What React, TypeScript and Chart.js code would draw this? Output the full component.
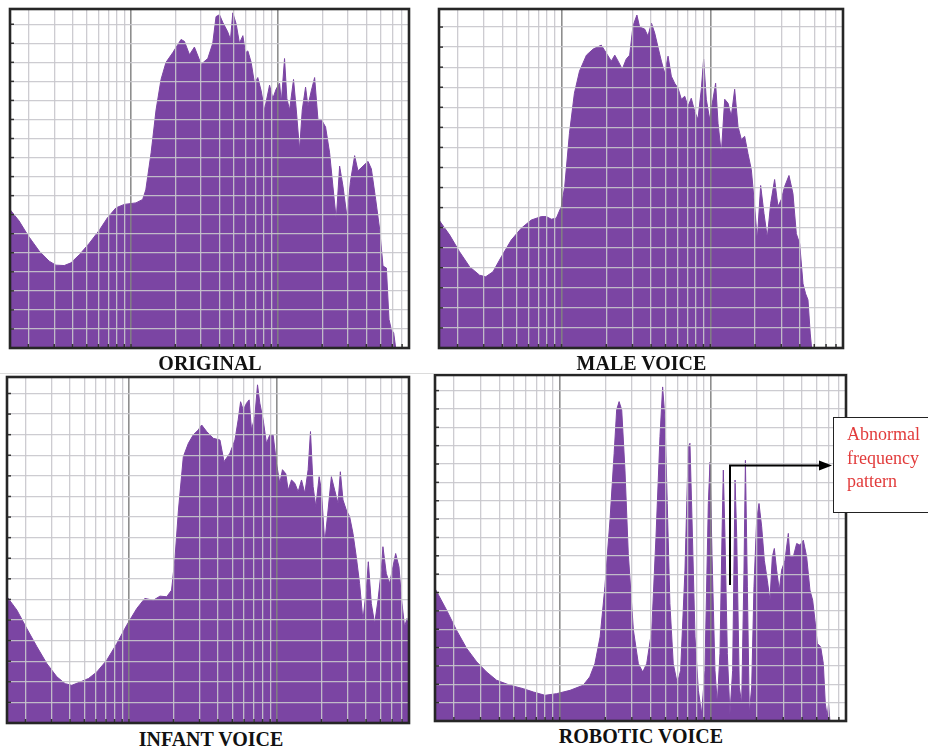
import React, { useEffect, useRef } from "react";
import { Chart, registerables } from "chart.js";

Chart.register(...registerables);

// ---- axis definition (log frequency axis, Hz) ----
const X_MIN = 15;
const X_MAX = 7800;
const X_GRID_HZ = [20, 30, 40, 50, 60, 70, 80, 90, 100, 200, 300, 400, 500, 600, 700, 800, 900, 1000, 2000, 3000, 4000, 5000, 6000, 7000];
const X_DECADE_HZ = [100, 1000];

// ---- ORIGINAL ----
const ORIGINAL_FREQ = [15, 17.3, 20, 23.7, 27.7, 30.8, 35.1, 39, 44.5, 52, 61, 69, 79, 90, 108, 120, 126, 137, 148, 160, 173, 192, 219, 231, 250, 270, 300, 333, 360, 379, 400, 421, 455, 475, 493, 520, 547, 577, 601, 624, 657, 692, 729, 769, 810, 877, 923, 973, 1026, 1054, 1109, 1150, 1200, 1277, 1333, 1403, 1464, 1542, 1599, 1686, 1777, 1872, 1974, 2110, 2247, 2366, 2494, 2629, 2770, 2950, 3110, 3327, 3505, 3792, 4103, 4325, 4627, 4930, 5190, 5472, 5702, 5916, 6133, 6334];
const ORIGINAL_LEVEL = [7.27, 6.67, 5.88, 5.09, 4.56, 4.35, 4.33, 4.47, 4.9, 5.5, 6.2, 6.83, 7.36, 7.54, 7.62, 7.8, 8.3, 10.25, 12.5, 14.1, 15.0, 15.5, 16.2, 16.1, 15.4, 15.8, 14.9, 15.2, 16.0, 17.4, 17.5, 17.1, 16.6, 16.2, 17.6, 17.0, 16.0, 16.4, 15.5, 15.6, 15.0, 13.9, 14.2, 13.5, 12.5, 13.8, 13.1, 13.6, 13.9, 12.9, 15.2, 13.1, 12.5, 14.1, 12.5, 10.4, 12.5, 13.7, 12.7, 13.5, 14.2, 12.0, 12.0, 11.6, 10.25, 8.5, 6.75, 9.55, 8.5, 6.9, 8.7, 10.1, 9.3, 9.55, 9.8, 9.4, 7.8, 6.2, 4.3, 4.2, 1.5, 0.96, 0.8, 0];

// ---- MALE VOICE ----
const MALE_FREQ = [15, 17.7, 20.6, 24.1, 28.1, 30.9, 34.6, 39.4, 45.9, 53.6, 62.6, 73.1, 79, 85.4, 92.2, 99.6, 105, 113, 122, 132, 147, 163, 185, 200, 216, 228, 240, 256, 272, 287, 302, 321, 335, 362, 381, 402, 423, 445, 469, 493, 520, 547, 576, 607, 639, 673, 708, 745, 785, 826, 870, 902, 940, 990, 1042, 1086, 1127, 1186, 1250, 1316, 1384, 1458, 1535, 1616, 1702, 1791, 1887, 1987, 2070, 2180, 2296, 2417, 2545, 2706, 2850, 3000, 3160, 3380, 3595, 3787, 3990, 4200, 4375, 4536, 4700, 4800];
const MALE_LEVEL = [6.38, 5.63, 4.8, 4.05, 3.63, 3.55, 3.8, 4.55, 5.38, 5.97, 6.38, 6.55, 6.55, 6.42, 6.47, 7.05, 8.05, 10.7, 12.7, 13.8, 14.6, 14.9, 15.1, 14.7, 14.3, 14.6, 14.3, 13.9, 14.4, 14.6, 16.05, 16.6, 16.0, 15.9, 15.55, 16.2, 15.7, 15.0, 14.3, 13.7, 14.55, 13.55, 13.2, 12.95, 12.4, 12.55, 12.05, 12.45, 11.8, 11.4, 12.9, 14.4, 12.4, 11.4, 12.4, 13.2, 11.2, 9.7, 12.4, 12.2, 11.55, 12.9, 11.05, 10.4, 10.55, 9.7, 8.9, 7.05, 5.4, 8.1, 6.7, 5.5, 7.2, 8.4, 7.05, 7.4, 8.05, 8.6, 7.7, 5.7, 5.2, 3.2, 2.7, 2.4, 0.7, 0];

// ---- INFANT VOICE ----
const INFANT_FREQ = [15, 17.5, 20.4, 23.9, 27.9, 32.6, 37.1, 41.1, 46.8, 53.3, 60.7, 70.8, 82.8, 96.6, 113, 128, 146, 162, 180, 194, 205, 216, 233, 252, 272, 294, 310, 335, 372, 412, 439, 481, 520, 547, 568, 592, 623, 649, 673, 709, 739, 766, 807, 849, 895, 942, 993, 1045, 1089, 1148, 1190, 1254, 1321, 1391, 1465, 1542, 1624, 1685, 1755, 1830, 1927, 1997, 2103, 2215, 2332, 2456, 2586, 2681, 2793, 2942, 3098, 3262, 3435, 3617, 3809, 4011, 4142, 4341, 4571, 4814, 5069, 5200, 5478, 5768, 6074, 6338, 6674, 6955, 7285, 7555, 7800];
const INFANT_LEVEL = [6.13, 5.48, 4.59, 3.7, 2.88, 2.24, 1.91, 1.83, 1.99, 2.16, 2.48, 3.05, 3.86, 4.75, 5.56, 6.05, 5.96, 6.16, 6.13, 6.45, 8.07, 10.34, 12.93, 13.58, 13.99, 14.23, 14.47, 14.15, 13.82, 13.74, 12.69, 13.1, 13.74, 14.72, 15.6, 15.2, 15.53, 15.69, 14.23, 14.88, 16.42, 15.53, 14.72, 13.58, 13.99, 13.99, 12.6, 11.64, 12.3, 12.1, 11.3, 11.8, 11.64, 11.23, 11.8, 11.15, 12.3, 14.15, 11.48, 10.5, 11.96, 11.3, 8.72, 10.34, 11.96, 11.3, 10.66, 12.2, 10.83, 10.34, 10.02, 9.21, 8.07, 6.77, 4.99, 6.45, 7.83, 5.8, 4.83, 5.96, 7.42, 8.56, 7.26, 6.77, 7.58, 8.23, 7.58, 5.96, 4.67, 5.07, 4.5];

// ---- ROBOTIC VOICE ----
const ROBOTIC_FREQ = [15, 17.9, 20.8, 24.3, 28.3, 32.9, 38.3, 46.9, 57.5, 67, 80, 95.5, 117, 143, 158, 171, 185, 199, 215, 229, 238, 247, 257, 270, 284, 307, 331, 354, 376, 406, 433, 460, 479, 497, 514, 535, 563, 599, 630, 673, 708, 726, 749, 784, 825, 867, 912, 960, 985, 1015, 1062, 1101, 1146, 1182, 1206, 1237, 1282, 1334, 1390, 1442, 1479, 1538, 1595, 1652, 1688, 1739, 1791, 1857, 1923, 2003, 2076, 2162, 2251, 2355, 2453, 2543, 2621, 2714, 2827, 2929, 3083, 3243, 3326, 3499, 3681, 3874, 4074, 4286, 4508, 4697, 4864, 5043, 5305, 5524, 5693, 5866, 5984, 6108];
const ROBOTIC_LEVEL = [7.22, 6.04, 4.95, 3.95, 3.22, 2.67, 2.22, 1.95, 1.76, 1.58, 1.4, 1.49, 1.67, 1.95, 2.4, 3.13, 4.58, 7.31, 10.95, 14.58, 16.95, 17.4, 16.95, 13.67, 9.13, 4.95, 3.13, 2.67, 3.13, 4.95, 10.04, 15.49, 18.2, 16.4, 11.85, 6.4, 3.13, 2.04, 2.76, 8.22, 14.95, 15.13, 10.95, 4.58, 1.67, 0.4, 2.76, 11.85, 14.1, 9.13, 2.76, 0.95, 3.67, 10.04, 13.67, 10.04, 3.67, 0.4, 2.76, 13.13, 10.04, 1.85, 0.95, 8.22, 14.2, 7.31, 0.4, 1.85, 7.31, 10.95, 11.85, 10.58, 8.76, 7.67, 6.58, 8.95, 9.4, 8.22, 7.13, 8.22, 8.76, 10.22, 8.95, 8.95, 9.67, 9.58, 9.85, 8.95, 7.13, 6.58, 5.49, 4.22, 4.04, 3.13, 0.95, 0.22, 0.95, 0];

const TITLES = ["ORIGINAL", "MALE VOICE", "INFANT VOICE", "ROBOTIC VOICE"];
const Y_MAX = [17.8, 16.9, 16.8, 18.85];
const ANNOTATION_LINES = ["Abnormal", "frequency", "pattern"];

// ---- layout / style (not data) ----
const PURPLE = "#7b45a3";
const GRID = "rgba(200,198,204,0.9)";
const GRID_DECADE = "rgba(130,130,130,0.9)";
const PAD = 3;
const AREAS = [
  { left: 10, top: 9, width: 399, height: 339 },
  { left: 439, top: 9, width: 404, height: 339 },
  { left: 7, top: 377, width: 402, height: 346 },
  { left: 435, top: 375, width: 411, height: 346 },
];
const LABELS = [
  { x: 210, baseline: 370 },
  { x: 641.5, baseline: 370 },
  { x: 211, baseline: 745.5 },
  { x: 641, baseline: 743 },
];

const framePlugin = {
  id: "frame",
  afterDraw(chart: any) {
    const { ctx, chartArea } = chart;
    const xs = chart.scales.x;
    const ys = chart.scales.y;
    ctx.save();
    ctx.strokeStyle = "#333";
    ctx.lineWidth = 1.5;
    ys.ticks.forEach((t: any) => {
      const y = ys.getPixelForValue(t.value);
      ctx.beginPath();
      ctx.moveTo(chartArea.left, y);
      ctx.lineTo(chartArea.left + 4, y);
      ctx.stroke();
    });
    xs.ticks.forEach((t: any) => {
      const x = xs.getPixelForValue(t.value);
      ctx.beginPath();
      ctx.moveTo(x, chartArea.bottom);
      ctx.lineTo(x, chartArea.bottom - 4);
      ctx.stroke();
    });
    ctx.strokeStyle = "#262626";
    ctx.lineWidth = 2.6;
    ctx.strokeRect(chartArea.left, chartArea.top, chartArea.right - chartArea.left, chartArea.bottom - chartArea.top);
    ctx.restore();
  },
};

function SpectrumPanel(props: { freq: number[]; level: number[]; yMax: number; area: any }) {
  const ref = useRef<HTMLCanvasElement | null>(null);
  const { freq, level, yMax, area } = props;
  useEffect(() => {
    if (!ref.current) return;
    const yTicks: number[] = [];
    for (let v = 0; v <= Math.floor(yMax); v++) yTicks.push(v);
    const chart = new Chart(ref.current, {
      type: "line",
      data: {
        datasets: [
          {
            data: freq.map((f, i) => ({ x: f, y: level[i] })),
            fill: "origin",
            backgroundColor: PURPLE,
            borderColor: PURPLE,
            borderWidth: 1,
            pointRadius: 0,
            tension: 0,
          },
        ],
      },
      options: {
        responsive: false,
        animation: false,
        devicePixelRatio: 1,
        layout: { padding: PAD },
        plugins: { legend: { display: false }, tooltip: { enabled: false }, title: { display: false } },
        scales: {
          x: {
            type: "logarithmic",
            min: X_MIN,
            max: X_MAX,
            afterBuildTicks: (s: any) => {
              s.ticks = X_GRID_HZ.map((v) => ({ value: v }));
            },
            afterFit: (s: any) => {
              s.height = 0;
            },
            ticks: { display: false },
            border: { display: false },
            grid: {
              z: 1,
              drawTicks: false,
              color: (c: any) => (c.tick && X_DECADE_HZ.includes(c.tick.value) ? GRID_DECADE : GRID),
              lineWidth: (c: any) => (c.tick && X_DECADE_HZ.includes(c.tick.value) ? 1.6 : 1.3),
            },
          },
          y: {
            type: "linear",
            min: 0,
            max: yMax,
            afterBuildTicks: (s: any) => {
              s.ticks = yTicks.map((v) => ({ value: v }));
            },
            afterFit: (s: any) => {
              s.width = 0;
            },
            ticks: { display: false },
            border: { display: false },
            grid: { z: 1, drawTicks: false, color: GRID, lineWidth: 1.3 },
          },
        },
      } as any,
      plugins: [framePlugin],
    });
    return () => chart.destroy();
  }, [freq, level, yMax]);
  return (
    <canvas
      ref={ref}
      width={area.width + PAD * 2}
      height={area.height + PAD * 2}
      style={{ position: "absolute", left: area.left - PAD, top: area.top - PAD, width: area.width + PAD * 2, height: area.height + PAD * 2 }}
    />
  );
}

export default function App() {
  const series = [
    { freq: ORIGINAL_FREQ, level: ORIGINAL_LEVEL },
    { freq: MALE_FREQ, level: MALE_LEVEL },
    { freq: INFANT_FREQ, level: INFANT_LEVEL },
    { freq: ROBOTIC_FREQ, level: ROBOTIC_LEVEL },
  ];
  return (
    <div style={{ position: "fixed", left: 0, top: 0, width: 928, height: 752, background: "#fff", overflow: "hidden" }}>
      {series.map((s, i) => (
        <SpectrumPanel key={TITLES[i]} freq={s.freq} level={s.level} yMax={Y_MAX[i]} area={AREAS[i]} />
      ))}
      <div style={{ position: "absolute", left: 0, top: 373, width: 847, height: 1, background: "#dcdcdc" }} />
      {TITLES.map((t, i) => (
        <div
          key={t}
          style={{
            position: "absolute",
            left: LABELS[i].x,
            top: LABELS[i].baseline - 16.75,
            transform: "translateX(-50%)",
            font: 'bold 20px "Liberation Serif", "Times New Roman", serif',
            lineHeight: "20px",
            color: "#111",
            whiteSpace: "nowrap",
          }}
        >
          {t}
        </div>
      ))}
      <svg width={928} height={752} style={{ position: "absolute", left: 0, top: 0 }}>
        <polyline points="730,585 730,465.5 822,465.5" fill="none" stroke="#000" strokeWidth={2} />
        <polygon points="819,460.5 832,465.5 819,470.5" fill="#000" />
      </svg>
      <div
        style={{
          position: "absolute",
          left: 833,
          top: 417,
          width: 110,
          height: 96,
          boxSizing: "border-box",
          border: "1.5px solid #222",
          background: "#fff",
        }}
      />
      <div
        style={{
          position: "absolute",
          left: 847,
          top: 422.8,
          font: '18px "Liberation Serif", "Times New Roman", serif',
          lineHeight: "23.7px",
          color: "#e23b3b",
          whiteSpace: "nowrap",
        }}
      >
        {ANNOTATION_LINES.map((l) => (
          <div key={l}>{l}</div>
        ))}
      </div>
    </div>
  );
}
